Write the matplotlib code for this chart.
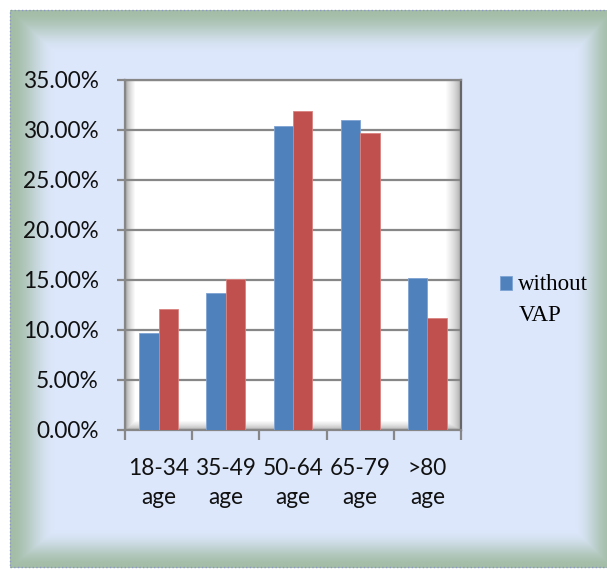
import numpy as np
import matplotlib
matplotlib.use("Agg")
import matplotlib.pyplot as plt
from matplotlib.patches import Rectangle

# data (percent)
age_groups = ["18-34\nage", "35-49\nage", "50-64\nage", "65-79\nage", ">80\nage"]
without_vap = [9.7, 13.7, 30.4, 31.0, 15.2]
with_vap = [12.1, 15.1, 31.9, 29.7, 11.2]
series_names = ["without\nVAP", "with\nVAP"]
y_ticks = [0, 5, 10, 15, 20, 25, 30, 35]

W, H = 607, 569
fig = plt.figure(figsize=(W / 100, H / 100), dpi=100)

# plot area in pixels (left, right, top, bottom)
L, R, T, B = 125, 461, 80, 430
ax = fig.add_axes([L / W, 1 - B / H, (R - L) / W, (B - T) / H])
ax.patch.set_alpha(0)
ax.set_zorder(2)

# background: bevelled light blue panel + shaded white plot area
yy, xx = np.mgrid[0:H, 0:W].astype(float)
green = np.array([163, 189, 167]) / 255
blue = np.array([220, 231, 251]) / 255
t = np.minimum.reduce([(xx - 10) / 45, (W + 5 - xx) / 38,
                       (yy - 10) / 42, (567 - yy) / 38])
t = np.clip(t, 0, 1)
t = t * t * (3 - 2 * t)
img = green + (blue - green) * t[..., None]
outside = (xx < 10) | (yy < 10) | (yy > 567)
img[outside] = 1.0

inside = (xx >= L) & (xx <= R) & (yy >= T) & (yy <= B)
s = np.minimum.reduce([(xx - L) / 10, (R - xx) / 16, (B - yy) / 10])
s = np.clip(s, 0, 1)
s = np.sqrt(s)
gray = 0.55
shade = gray + (1 - gray) * s
img[inside] = shade[inside][:, None]
fig.figimage(img, xo=0, yo=0, origin="upper", zorder=0)

fig.patches.append(Rectangle((10, 2), W, H - 12, transform=None, fill=False,
                             edgecolor="#8d98c6", lw=1, ls=":", zorder=1))

x = np.arange(len(age_groups))
w = 0.288
b1 = ax.bar(x - w / 2, without_vap, w, color="#4f81bd", edgecolor="#7ea3d3",
            lw=0.6, label=series_names[0], zorder=3)
b2 = ax.bar(x + w / 2, with_vap, w, color="#c0504d", edgecolor="#d98380",
            lw=0.6, label=series_names[1], zorder=3)

ax.set_xlim(-0.5, len(age_groups) - 0.5)
ax.set_ylim(0, 35)
ax.set_yticks(y_ticks)
ax.set_yticklabels([f"{v:.2f}%" for v in y_ticks])
ax.yaxis.grid(True, color="#878787", lw=1.6, zorder=1)
ax.set_axisbelow(True)

ax.set_xticks(x)
ax.set_xticklabels(age_groups, linespacing=1.5)
ax.set_xticks(np.arange(len(age_groups) + 1) - 0.5, minor=True)
ax.tick_params(axis="x", which="major", length=0, pad=20)
ax.tick_params(axis="x", which="minor", length=7, width=1.6, color="#878787")
ax.tick_params(axis="y", length=6, width=1.6, color="#878787", pad=13)
for lab in ax.get_xticklabels() + ax.get_yticklabels():
    lab.set_family("Lato")
    lab.set_fontsize(16.3)
    lab.set_color("#111111")

for side in ["left", "top", "bottom"]:
    ax.spines[side].set_color("#878787")
    ax.spines[side].set_linewidth(1.6)
ax.spines["right"].set_color("#666666")
ax.spines["right"].set_linewidth(1.6)
ax.spines["right"].set_linestyle((0, (2, 1)))

leg = fig.legend(handles=[b1], labels=[series_names[0]], loc="upper left",
                 bbox_to_anchor=(500 / W, 1 - 274 / H), frameon=False,
                 prop={"family": "Liberation Serif", "size": 16.5},
                 handlelength=0.52, handleheight=0.52, handletextpad=0.28,
                 borderpad=0, borderaxespad=0)
leg.get_texts()[0].set_linespacing(1.6)
# keep the marker on the first line of the label, like the original
for row in leg._legend_handle_box.get_children():
    for entry in row.get_children():
        entry.get_children()[1]._multilinebaseline = False
line_pts = 16.5 * 1.6 * 0.80
for h in leg.legend_handles:
    h.set_y(h.get_y() + line_pts)

fig.savefig("out.png", dpi=100)
